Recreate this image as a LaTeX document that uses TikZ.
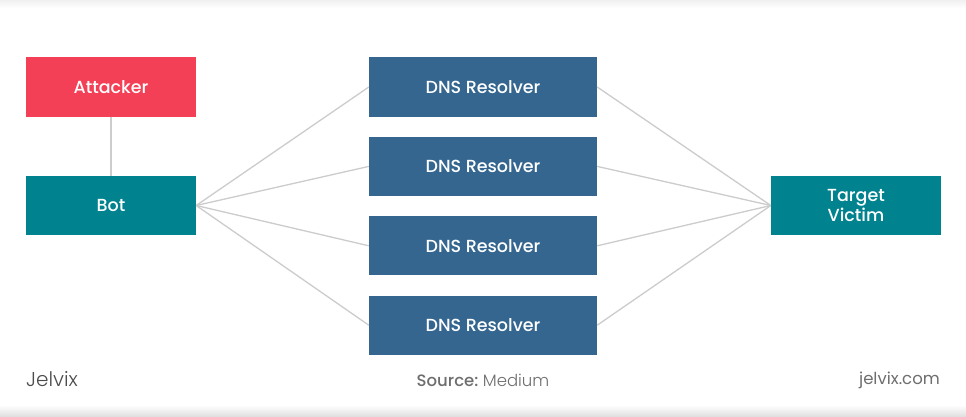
\documentclass[tikz,border=0pt]{standalone}
\usepackage{fontspec}
\setmainfont{Poppins}
\newfontfamily\boxfont{Poppins Medium}
\newfontfamily\logofont{Poppins Light}
\usetikzlibrary{positioning}
\definecolor{attackred}{RGB}{243,64,86}
\definecolor{botteal}{RGB}{0,130,143}
\definecolor{dnsblue}{RGB}{52,102,144}
\definecolor{wiregray}{RGB}{204,204,204}
\definecolor{footgray}{RGB}{110,110,110}

\begin{document}
\begin{tikzpicture}[x=1pt, y=1pt,
  node distance=20pt,
  box/.style={draw=none, align=center, text=white, font=\boxfont\fontsize{17.5}{20}\selectfont, inner sep=0pt},
  side/.style={box, minimum width=170pt, minimum height=59pt},
  resolver/.style={box, fill=dnsblue, minimum width=228pt, minimum height=59pt},
  wire/.style={draw=wiregray, line width=1.3pt},
  foot/.style={font=\fontsize{16.5}{18}\selectfont, text=footgray, inner sep=0pt}
]
\useasboundingbox (0,0) rectangle (966,416);
\fill[white] (0,0) rectangle (966,416);
% page edges
\shade[top color=white, bottom color=black!12] (0,0) rectangle (966,11);
\shade[top color=black!6, bottom color=white] (0,408) rectangle (966,416);

\node[side, fill=attackred] (attacker) at (111,329) {Attacker};
\node[side, fill=botteal] (bot) at (111,210.5) {Bot};
\node[resolver] (dns1) at (483,329) {DNS Resolver};
\node[resolver, below=of dns1] (dns2) {DNS Resolver};
\node[resolver, below=of dns2] (dns3) {DNS Resolver};
\node[resolver, below=of dns3] (dns4) {DNS Resolver};
\node[side, fill=botteal] (target) at (856,210.5) {Target\\Victim};

\draw[wire] (attacker) -- (bot);
\foreach \i in {1,...,4} {
  \draw[wire] (bot.east) -- (dns\i.west);
  \draw[wire] (dns\i.east) -- (target.west);
}

\node[foot, anchor=west, font=\logofont\fontsize{20}{22}\selectfont, text=black!70] (brand) at (26,37) {Jelvix};
\node[foot] (source) at (483,36) {\boxfont Source:\logofont\ Medium};
\node[foot, anchor=east] (site) at (940,36) {jelvix.com};
\end{tikzpicture}
\end{document}
